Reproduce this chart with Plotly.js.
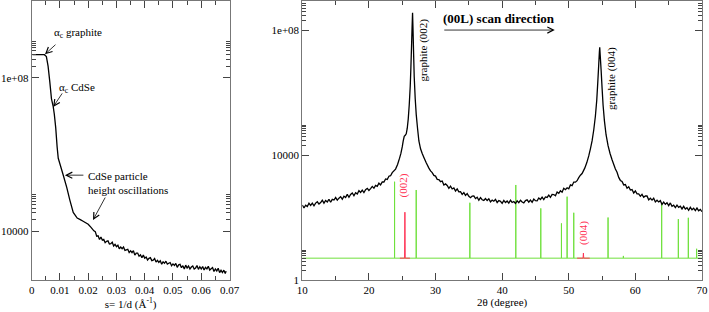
<!DOCTYPE html>
<html><head><meta charset="utf-8">
<script src="https://cdn.plot.ly/plotly-3.0.1.min.js"></script>
<style>html,body{margin:0;padding:0;background:#fff}#chart{width:709px;height:312px}</style>
</head><body><div id="chart"></div>
<script>
// ---- Left panel: reflectivity vs s = 1/d ----
const leftS = [0.0003,0.002,0.0045,0.0052,0.0058,0.0064,0.0070,0.0076,0.0080,0.0085,0.0090,0.0094,0.0100,0.0112,0.0124,0.0135,0.0147,0.0161,0.0172,0.0182,0.0200,0.0210,0.0220,
 0.0225,0.0230,0.0235,0.0240,0.0245,0.0250,0.0255,0.0260,0.0265,0.0270,0.0275,0.0280,0.0285,0.0290,0.0295,0.0300,0.0305,0.0310,0.0315,0.0320,0.0325,0.0330,0.0335,0.0340,0.0345,0.0350,0.0355,0.0360,0.0365,0.0370,
 0.0375,0.0380,0.0385,0.0390,0.0395,0.0400,0.0405,0.0410,0.0415,0.0420,0.0425,0.0430,0.0435,0.0440,0.0445,0.0450,0.0455,0.0460,0.0465,0.0470,0.0475,0.0480,0.0485,0.0490,0.0495,0.0500,0.0505,0.0510,0.0515,0.0520,
 0.0525,0.0530,0.0535,0.0540,0.0545,0.0550,0.0555,0.0560,0.0565,0.0570,0.0575,0.0580,0.0585,0.0590,0.0595,0.0600,0.0605,0.0610,0.0615,0.0620,0.0625,0.0630,0.0635,0.0640,0.0645,0.0650,0.0655,0.0660,0.0665,0.0670,0.0675,0.0680,0.0685,0.0688];
const leftI = [4.0e8,4.0e8,3.98e8,3.55e8,2.0e8,7.94e7,2.82e7,1.78e7,1.12e7,5.0e6,1.58e6,7.94e5,5.62e5,2.82e5,1.38e5,6.46e4,3.09e4,2.19e4,2.0e4,1.82e4,1.51e4,1.26e4,1.02e4,
 9720,7380,7590,6080,7020,5850,6100,5000,5420,5590,4650,4740,5140,4110,4540,3960,4310,3470,3870,3480,3860,3150,3270,3380,2760,3060,2760,3090,2370,2690,
 2680,2230,2410,2020,2370,1980,2110,1770,1950,2030,1710,1760,1930,1560,1740,1540,1700,1380,1580,1450,1650,1380,1460,1520,1260,1400,1280,1440,1140,1320,
 1360,1120,1260,1030,1300,1100,1230,1030,1160,1240,1030,1100,1270,1010,1180,1030,1200,970,1140,1040,1210,970,1050,1120,890,1040,920,1080,830,955,835,960,790,910];

// ---- Right panel: 2theta scan ----
const theta = [10,10.25,10.5,10.75,11,11.25,11.5,11.75,12,12.25,12.5,12.75,13,13.25,13.5,13.75,14,14.25,14.5,14.75,15,15.25,15.5,15.75,16,16.25,16.5,16.75,17,17.25,17.5,17.75,18,18.25,18.5,18.75,19,19.25,19.5,19.75,20,20.25,20.5,20.75,21,21.25,21.5,21.75,22,22.25,22.5,22.75,23,23.25,23.5,
 24,24.3,24.6,24.8,25.0,25.15,25.3,25.45,25.6,25.75,25.9,26.05,26.2,26.3,26.4,26.48,26.55,26.62,26.7,26.8,26.95,27.1,27.3,27.5,27.75,28.0,28.3,28.6,29.0,
 29.25,29.5,29.75,30,30.25,30.5,30.75,31,31.25,31.5,31.75,32,32.25,32.5,32.75,33,33.25,33.5,33.75,34,34.25,34.5,34.75,35,35.25,35.5,35.75,36,36.25,36.5,36.75,37,
 37.25,37.5,37.75,38,38.25,38.5,38.75,39,39.25,39.5,39.75,40,40.25,40.5,40.75,41,41.25,41.5,41.75,42,42.25,42.5,42.75,43,43.25,43.5,43.75,44,44.25,44.5,44.75,45,
 45.25,45.5,45.75,46,46.25,46.5,46.75,47,47.25,47.5,47.75,48,48.25,48.5,48.75,49,49.25,49.5,49.75,50,50.25,50.5,50.75,51,51.25,51.5,51.75,52,
 52.4,52.7,53.0,53.25,53.5,53.75,54.0,54.2,54.35,54.5,54.6,54.65,54.72,54.85,55.0,55.15,55.35,55.6,55.9,56.2,56.5,57.0,57.25,
 57.5,57.75,58,58.25,58.5,58.75,59,59.25,59.5,59.75,60,60.25,60.5,60.75,61,61.25,61.5,61.75,62,62.25,62.5,62.75,63,63.25,63.5,63.75,64,64.25,64.5,64.75,65,65.25,65.5,65.75,66,66.25,66.5,66.75,67,67.25,67.5,67.75,68,68.25,68.5,68.75,69,69.25,69.5,69.75,70];
const intensity = [251,202,249,224,286,245,287,238,290,319,269,301,357,288,351,315,385,307,382,363,436,360,416,462,385,484,440,548,446,548,608,498,618,564,727,632,747,626,773,858,732,839,990,865,1060,995,1254,1107,1371,1368,1712,1655,2095,2176,2735,
 3548,5012,7943,11220,18200,28180,39810,42660,47860,70800,141250,398100,1.585e6,6.31e6,3.16e7,1.26e8,3.55e8,1.0e8,2.0e7,3.16e6,6.3e5,2.0e5,70800,28180,15850,11220,7943,5623,3800,
 3100,2735,2221,2115,1671,1648,1402,1476,1094,1189,1057,860,1015,819,880,706,828,664,673,549,629,512,581,475,431,485,492,402,444,358,434,370,
 350,405,349,398,316,361,333,380,302,351,330,285,352,301,338,288,357,303,325,281,341,298,358,314,294,348,369,312,361,305,387,345,
 342,420,378,452,376,454,438,524,441,544,542,495,656,593,715,644,858,780,897,830,1105,1043,1360,1356,1507,1893,2254,2551,
 3800,5623,9333,15850,28180,63100,177800,562300,2.0e6,7.94e6,2.0e7,2.8e7,1.58e7,5.6e6,1.41e6,398000,125900,44670,19950,11220,7080,3548,2800,
 1918,1537,1416,1106,1131,869,967,756,785,609,707,572,573,478,551,445,489,489,367,414,361,415,316,356,314,347,263,310,265,296,239,293,228,247,208,249,212,229,188,228,186,207,170,212,177,199,166,201,165,181,153];

// reference pattern sticks (green) and CdSe (00L) peaks (red)
const stickBase = 5;
const stickPos = [23.85,27.1,35.15,42.05,45.8,48.9,49.75,50.75,55.9,58.2,63.95,66.45,67.95,69.2];
const stickTop = [1400,760,297,1100,196,65,465,142,100,5.9,297,89,98,10];
const redPos = [25.4,52.2];
const redTop = [148,7.3];
const redHalfBase = [0.75,0.95];

// build traces from data
const gx=[10], gy=[stickBase];
stickPos.forEach((p,i)=>{gx.push(p,p,p); gy.push(stickBase,stickTop[i],stickBase);});
gx.push(70); gy.push(stickBase);
const rx=[], ry=[];
redPos.forEach((p,i)=>{
  rx.push(p-redHalfBase[i],p-0.05,p,p+0.05,p+redHalfBase[i],null);
  ry.push(stickBase,stickBase,redTop[i],stickBase,stickBase,null);
});

function minorVals(decs){const v=[];decs.forEach(d=>{for(let n=2;n<=9;n++)v.push(n*Math.pow(10,d));});return v;}

const FAM = 'Liberation Serif';
const F = (extra)=>Object.assign({family:FAM, size:11, color:'#000'}, extra||{});
const axBase = ()=>({showline:true, linecolor:'#777', linewidth:1, mirror:'allticks', ticks:'inside', ticklen:7, tickcolor:'#444', tickwidth:1, showgrid:false, zeroline:false, tickfont:F()});
const arrowStyle = ()=>({text:'', showarrow:true, arrowhead:5, arrowsize:1.5, arrowwidth:0.8, arrowcolor:'#000', standoff:0});

const traces = [
  {x:leftS, y:leftI, xaxis:'x', yaxis:'y', mode:'lines', line:{color:'#000', width:1.3, simplify:false}, hoverinfo:'skip'},
  {x:gx, y:gy, xaxis:'x2', yaxis:'y2', mode:'lines', line:{color:'#6fe03c', width:1}, hoverinfo:'skip'},
  {x:rx, y:ry, xaxis:'x2', yaxis:'y2', mode:'lines', line:{color:'#ff3355', width:1}, connectgaps:false, hoverinfo:'skip'},
  {x:theta, y:intensity, xaxis:'x2', yaxis:'y2', mode:'lines', line:{color:'#000', width:1.3, simplify:false}, hoverinfo:'skip'}
];

const txt = (x,y,text,extra)=>Object.assign({xref:'paper', yref:'paper', x:x, y:y, xanchor:'center', yanchor:'middle', text:text, showarrow:false, font:F()}, extra||{});
const layout = {
  width:709, height:312, margin:{l:0,r:0,t:1,b:32}, showlegend:false,
  paper_bgcolor:'#fff', plot_bgcolor:'#fff', font:F(),
  xaxis: Object.assign(axBase(), {domain:[0.0447,0.3237], range:[0,0.07], dtick:0.01, tick0:0,
     minor:{dtick:0.005, tick0:0, ticks:'inside', ticklen:4, tickcolor:'#444'},
     title:{text:'s= 1/d (Å<sup>-1</sup>)', font:F(), standoff:0}}),
  yaxis: Object.assign(axBase(), {type:'log', range:[2.727,10], tickmode:'array', tickvals:[1e4,1e8], ticktext:['10000','1e+08'],
     minor:{tickmode:'array', tickvals:minorVals([4,8]), ticks:'inside', ticklen:4, tickcolor:'#444'}}),
  xaxis2: Object.assign(axBase(), {anchor:'y2', domain:[0.4264,0.9901], range:[10,70], dtick:10, tick0:0,
     minor:{dtick:5, tick0:0, ticks:'inside', ticklen:4, tickcolor:'#444'},
     title:{text:'2θ (degree)', font:F(), standoff:2}}),
  yaxis2: Object.assign(axBase(), {anchor:'x2', type:'log', range:[0,8.93], tickmode:'array', tickvals:[1,1e4,1e8], ticktext:['1','10000','1e+08'],
     minor:{tickmode:'array', tickvals:minorVals([0,4,8]), ticks:'inside', ticklen:4, tickcolor:'#444'}}),
  annotations:[
    txt(0.0733,0.885,'α<sub>c</sub> graphite',{xanchor:'left'}),
    txt(0.0804,0.688,'α<sub>c</sub> CdSe',{xanchor:'left'}),
    txt(0.122,0.349,'CdSe particle<br>height oscillations',{xanchor:'left', align:'left'}),
    Object.assign({xref:'x', yref:'y', x:0.0047, y:8.61, ax:12, ay:-11}, arrowStyle()),
    Object.assign({xref:'x', yref:'y', x:0.0076, y:7.24, ax:10, ay:-15}, arrowStyle()),
    Object.assign({xref:'x', yref:'y', x:0.01175, y:5.46, ax:20, ay:0}, arrowStyle()),
    Object.assign({xref:'x', yref:'y', x:0.0217, y:4.29, ax:13, ay:-24}, arrowStyle()),
    txt(0.5973,0.824,'graphite (002)',{textangle:-90}),
    txt(0.8625,0.722,'graphite (004)',{textangle:-90}),
    txt(0.5691,0.3405,'(002)',{textangle:-90, font:F({color:'#ff3355'})}),
    txt(0.823,0.1667,'(004)',{textangle:-90, font:F({color:'#ff3355'})}),
    txt(0.7038,0.939,'<b>(00L) scan direction</b>',{font:F({size:13})}),
    Object.assign({xref:'x2', yref:'y2', x:47.9, y:8.0, ax:-112, ay:0}, arrowStyle())
  ]
};
Plotly.newPlot('chart', traces, layout, {staticPlot:true, displayModeBar:false});
</script></body></html>
